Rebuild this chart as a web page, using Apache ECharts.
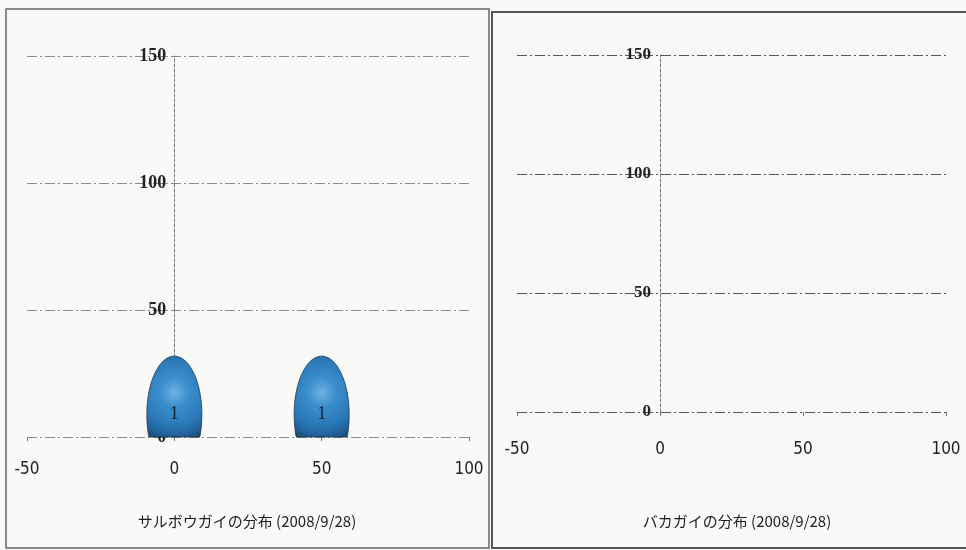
<!DOCTYPE html>
<html>
<head>
<meta charset="utf-8">
<script src="https://cdn.jsdelivr.net/npm/echarts@6/dist/echarts.min.js"></script>
<style>
  html, body { margin: 0; padding: 0; background: #f9f9f7; }
  #chart { width: 966px; height: 550px; }
</style>
</head>
<body>
<div id="chart"></div>
<script>
// Axis ticks shared by both panels
const xTicks = [-50, 0, 50, 100];
const yTicks = [0, 50, 100, 150];

// サルボウガイ: position (x, y) and individual count per point
const sarubouX = [0, 50];
const sarubouY = [9, 9];
const sarubouCount = [1, 1];

// バカガイ: no individuals found
const bakagaiX = [];
const bakagaiY = [];
const bakagaiCount = [];

const leftTitle = 'サルボウガイの分布 (2008/9/28)';
const rightTitle = 'バカガイの分布 (2008/9/28)';

// Panel plot areas
const GRID_L = { left: 27, top: 56, width: 442, height: 381 };
const GRID_R = { left: 517, top: 55, width: 429, height: 357 };

// Bubble geometry (pixels for a count of 1)
const BUBBLE_RX = 27.5;
const BUBBLE_RY_TOP = 58;
const BUBBLE_RY_BOT = 62;

function toPoints(xs, ys, ns) {
  return xs.map((x, i) => [x, ys[i], ns[i]]);
}

// Distance from the plot's left edge to x = 0, so the y axis sits on zero
function zeroOffset(grid) {
  const lo = xTicks[0], hi = xTicks[xTicks.length - 1];
  return -grid.width * (0 - lo) / (hi - lo);
}

// Draws a shaded, egg-like bubble cut flat at the y = 0 baseline
function renderShell(params, api) {
  const x = api.value(0), y = api.value(1), n = api.value(2);
  const c = api.coord([x, y]);
  const base = api.coord([x, 0])[1];
  const k = Math.sqrt(n);
  const rx = BUBBLE_RX * k, ryTop = BUBBLE_RY_TOP * k, ryBot = BUBBLE_RY_BOT * k;
  const pts = [];
  for (let i = 0; i <= 96; i++) {
    const t = i / 96 * Math.PI * 2;
    const s = Math.sin(t);
    const py = c[1] - (s >= 0 ? ryTop : ryBot) * s;
    pts.push([c[0] + rx * Math.cos(t), Math.min(py, base)]);
  }
  return {
    type: 'group',
    children: [
      {
        type: 'polygon',
        shape: { points: pts },
        style: {
          fill: {
            type: 'radial', x: 0.5, y: 0.45, r: 0.9,
            colorStops: [
              { offset: 0, color: '#6fb1e1' },
              { offset: 0.3, color: '#3a8dcc' },
              { offset: 0.65, color: '#2b79b8' },
              { offset: 0.85, color: '#22639a' },
              { offset: 1, color: '#1b4a72' }
            ]
          },
          stroke: '#22364a',
          lineWidth: 0.8
        }
      },
      {
        type: 'text',
        x: c[0], y: c[1],
        z2: 10,
        style: {
          text: String(n),
          align: 'center', verticalAlign: 'middle',
          textAlign: 'center', textVerticalAlign: 'middle',
          font: '18px "Liberation Serif", serif',
          fill: '#14222f'
        }
      }
    ]
  };
}

function xAxisFor(gridIndex, margin) {
  return {
    gridIndex: gridIndex,
    type: 'value',
    min: xTicks[0],
    max: xTicks[xTicks.length - 1],
    interval: xTicks[1] - xTicks[0],
    axisLine: { show: false },
    axisTick: { show: true, length: 4, lineStyle: { color: '#777' } },
    splitLine: { show: false },
    axisLabel: {
      margin: margin,
      fontFamily: '"DejaVu Sans Condensed", "Liberation Sans Narrow", "Liberation Sans", sans-serif',
      fontSize: 17,
      color: '#222'
    }
  };
}

function yAxisFor(gridIndex, grid, gridColor, labelSize, margin) {
  return {
    gridIndex: gridIndex,
    type: 'value',
    min: yTicks[0],
    max: yTicks[yTicks.length - 1],
    interval: yTicks[1] - yTicks[0],
    offset: zeroOffset(grid),
    z: 1,
    axisLine: { show: true, onZero: false, lineStyle: { color: '#777', width: 1, type: [3, 2] } },
    axisTick: { show: false },
    axisLabel: {
      margin: margin,
      fontFamily: '"Liberation Serif", serif',
      fontWeight: 'bold',
      fontSize: labelSize,
      color: '#222'
    },
    splitLine: { show: true, lineStyle: { color: gridColor, width: 1, type: [10, 3, 2, 3] } }
  };
}

const chart = echarts.init(document.getElementById('chart'), null, { renderer: 'canvas' });

chart.setOption({
  backgroundColor: '#f9f9f7',
  animation: false,
  grid: [GRID_L, GRID_R],
  xAxis: [xAxisFor(0, 24), xAxisFor(1, 29)],
  yAxis: [yAxisFor(0, GRID_L, '#8a8a8a', 18, 8), yAxisFor(1, GRID_R, '#555', 17, 9)],
  series: [
    {
      type: 'custom',
      name: 'サルボウガイ',
      xAxisIndex: 0, yAxisIndex: 0,
      z: 3,
      renderItem: renderShell,
      data: toPoints(sarubouX, sarubouY, sarubouCount)
    },
    {
      type: 'custom',
      name: 'バカガイ',
      xAxisIndex: 1, yAxisIndex: 1,
      z: 3,
      renderItem: renderShell,
      data: toPoints(bakagaiX, bakagaiY, bakagaiCount)
    }
  ],
  graphic: [
    {
      type: 'rect', silent: true, z: -1,
      shape: { x: 6, y: 9, width: 483, height: 539 },
      style: { fill: 'none', stroke: '#666', lineWidth: 1.5 }
    },
    {
      type: 'rect', silent: true, z: -1,
      shape: { x: 492, y: 12, width: 480, height: 536 },
      style: { fill: 'none', stroke: '#555', lineWidth: 2 }
    },
    {
      type: 'text', x: 247, y: 521, silent: true,
      style: {
        text: leftTitle,
        align: 'center', verticalAlign: 'middle',
        textAlign: 'center', textVerticalAlign: 'middle',
        font: '15px "Noto Sans CJK JP", sans-serif',
        fill: '#1e1e1e'
      }
    },
    {
      type: 'text', x: 737, y: 521, silent: true,
      style: {
        text: rightTitle,
        align: 'center', verticalAlign: 'middle',
        textAlign: 'center', textVerticalAlign: 'middle',
        font: '15px "Noto Sans CJK JP", sans-serif',
        fill: '#1e1e1e'
      }
    }
  ]
});
</script>
</body>
</html>
